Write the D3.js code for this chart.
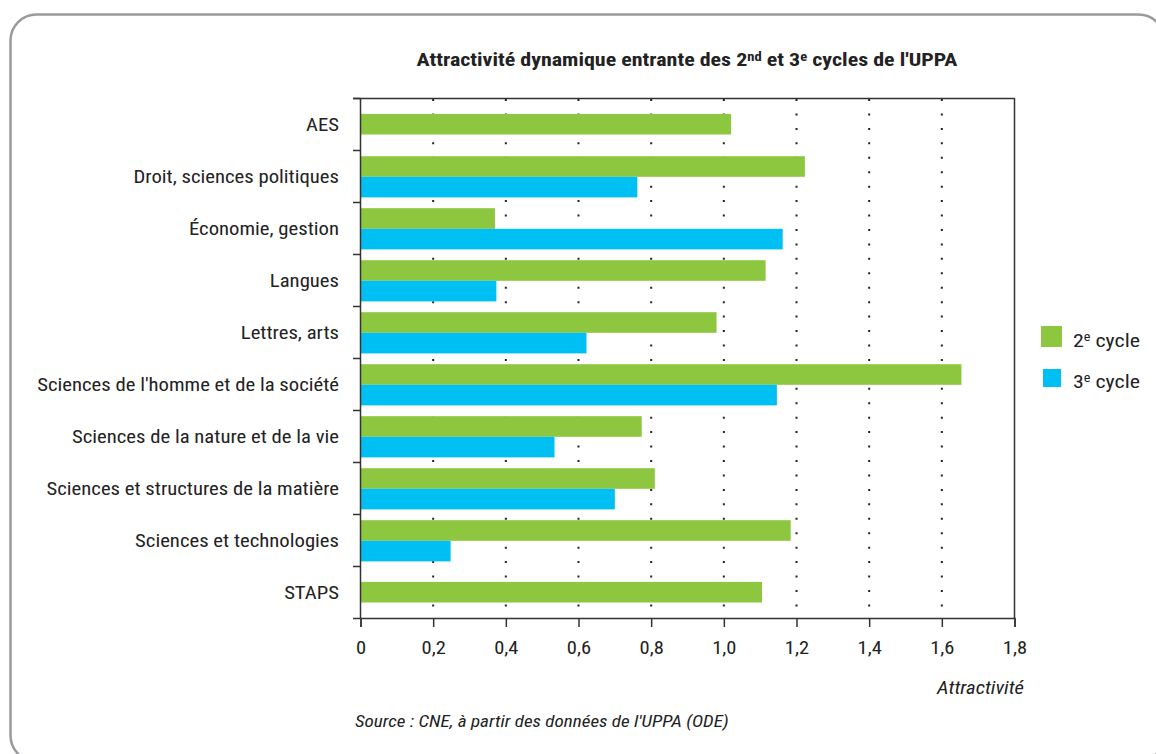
<!DOCTYPE html>
<html><head><meta charset="utf-8">
<script src="https://cdn.jsdelivr.net/npm/d3@7/dist/d3.min.js"></script>
<style>
body{margin:0;background:#fff;}
svg{display:block;}
text{font-family:"Liberation Sans Narrow","Roboto Condensed","Liberation Sans",sans-serif;fill:#222;}
</style></head>
<body>
<svg id="c" width="1156" height="754"></svg>
<script>
const categories = ["AES","Droit, sciences politiques","Économie, gestion","Langues","Lettres, arts","Sciences de l'homme et de la société","Sciences de la nature et de la vie","Sciences et structures de la matière","Sciences et technologies","STAPS"];
const cycle2 = [1.02, 1.223, 0.37, 1.115, 0.98, 1.654, 0.774, 0.81, 1.184, 1.105];
const cycle3 = [null, 0.762, 1.162, 0.374, 0.622, 1.146, 0.534, 0.70, 0.248, null];
const tickValues = [0,0.2,0.4,0.6,0.8,1.0,1.2,1.4,1.6,1.8];
const tickLabels = ["0","0,2","0,4","0,6","0,8","1,0","1,2","1,4","1,6","1,8"];
const seriesNames = ["2e cycle","3e cycle"];
const colors = ["#8dc63f","#00c0f3"];

const svg = d3.select("#c");
const FONT = '"Liberation Sans Narrow","Roboto Condensed","Liberation Sans",sans-serif';

// horizontal stretch helper to match the reference's wider condensed face
function stretch(sel, s, ax) {
  sel.attr("transform", `translate(${ax},0) scale(${s},1) translate(${-ax},0)`);
}
function fitWidth(sel, target, ax) {
  const w = sel.node().getComputedTextLength();
  stretch(sel, target / w, ax);
  return target / w;
}

// frame
svg.append("rect").attr("x",10.5).attr("y",14.5).attr("width",1154).attr("height",747)
  .attr("rx",26).attr("fill","none").attr("stroke","#9a9a9e").attr("stroke-width",2.5);

const x = d3.scaleLinear().domain([0,1.8]).range([360.5,1014.5]);
const y = d3.scaleBand().domain(categories).range([98,618]);
const bw = y.bandwidth();
const bh = 20.6;

// dotted grid
svg.append("g").selectAll("line").data(tickValues.slice(1,-1)).join("line")
  .attr("x1",d=>x(d)).attr("x2",d=>x(d)).attr("y1",99).attr("y2",618)
  .attr("stroke","#222").attr("stroke-width",2).attr("stroke-dasharray","2 12.44");

// bars
const g = svg.append("g");
categories.forEach((c,i)=>{
  const y0 = y(c);
  if (cycle3[i] == null) {
    const cy = y0 + bw/2 + 0.2;
    g.append("rect").attr("x",x(0)).attr("y",cy-bh/2).attr("width",x(cycle2[i])-x(0)).attr("height",bh).attr("fill",colors[0]);
  } else {
    const cy = y0 + bw/2 + 0.8;
    g.append("rect").attr("x",x(0)).attr("y",cy-bh).attr("width",x(cycle2[i])-x(0)).attr("height",bh).attr("fill",colors[0]);
    g.append("rect").attr("x",x(0)).attr("y",cy).attr("width",x(cycle3[i])-x(0)).attr("height",bh).attr("fill",colors[1]);
  }
});

// box / axes
const axisColor = "#333";
svg.append("line").attr("x1",353).attr("x2",1014.5).attr("y1",98.5).attr("y2",98.5).attr("stroke",axisColor).attr("stroke-width",1.5);
svg.append("line").attr("x1",1014.5).attr("x2",1014.5).attr("y1",98).attr("y2",618).attr("stroke",axisColor).attr("stroke-width",1.5);
svg.append("line").attr("x1",360.5).attr("x2",360.5).attr("y1",98).attr("y2",618).attr("stroke",axisColor).attr("stroke-width",1.5);
const bounds = categories.map(c=>y(c)).concat([y.range()[1]]);
svg.append("g").selectAll("line").data(bounds).join("line")
  .attr("x1",353).attr("x2",360.5).attr("y1",d=>d+0.5).attr("y2",d=>d+0.5).attr("stroke",axisColor).attr("stroke-width",1.5);

const xAxis = d3.axisBottom(x).tickValues(tickValues).tickSize(9).tickPadding(14)
  .tickFormat((d,i)=>tickLabels[i]);
const ax = svg.append("g").attr("transform","translate(0,618)").call(xAxis);
ax.select(".domain").attr("stroke",axisColor).attr("stroke-width",1.5);
ax.selectAll(".tick line").attr("stroke",axisColor).attr("stroke-width",1.5);
ax.selectAll(".tick text").attr("font-size",19).attr("fill","#222").style("font-family",FONT)
  .attr("transform","scale(1.08,1)");

// category labels
const labels = svg.append("g").selectAll("text").data(categories).join("text")
  .attr("x",339).attr("y",d=>y(d)+bw/2+7).attr("text-anchor","end").attr("font-size",18.5).text(d=>d);
const longest = labels.filter(d=>d==="Sciences de l'homme et de la société");
const sCat = 302 / longest.node().getComputedTextLength();
labels.each(function(){ stretch(d3.select(this), sCat, 339); });

// title
const t = svg.append("text").attr("x",687).attr("y",66).attr("text-anchor","middle")
  .attr("font-size",18).attr("font-weight","bold");
t.append("tspan").text("Attractivité dynamique entrante des 2");
t.append("tspan").attr("dy",-5).attr("font-size",12).text("nd");
t.append("tspan").attr("dy",5).text(" et 3");
t.append("tspan").attr("dy",-5).attr("font-size",12).text("e");
t.append("tspan").attr("dy",5).text(" cycles de l'UPPA");
fitWidth(t, 541, 687);

// legend
const leg = [{x:1041,y:326,s:21},{x:1043,y:369,s:18}];
leg.forEach((l,i)=>{
  svg.append("rect").attr("x",l.x).attr("y",l.y).attr("width",l.s).attr("height",l.s).attr("fill",colors[i]);
  const tt = svg.append("text").attr("x",1073).attr("y",[347,388][i]).attr("font-size",18.5);
  const parts = seriesNames[i].split("e ");
  tt.append("tspan").text(parts[0]);
  tt.append("tspan").attr("dy",-6).attr("font-size",12).text("e");
  tt.append("tspan").attr("dy",6).text(" " + parts[1]);
  fitWidth(tt, 67, 1073);
});

// axis title & source
const at = svg.append("text").attr("x",1024).attr("y",694).attr("text-anchor","end").attr("font-size",18.5)
  .attr("font-style","italic").text("Attractivité");
fitWidth(at, 87, 1024);
const src = svg.append("text").attr("x",355).attr("y",727).attr("font-size",16.5)
  .attr("font-style","italic").text("Source : CNE, à partir des données de l'UPPA (ODE)");
fitWidth(src, 374, 355);
</script>
</body></html>
